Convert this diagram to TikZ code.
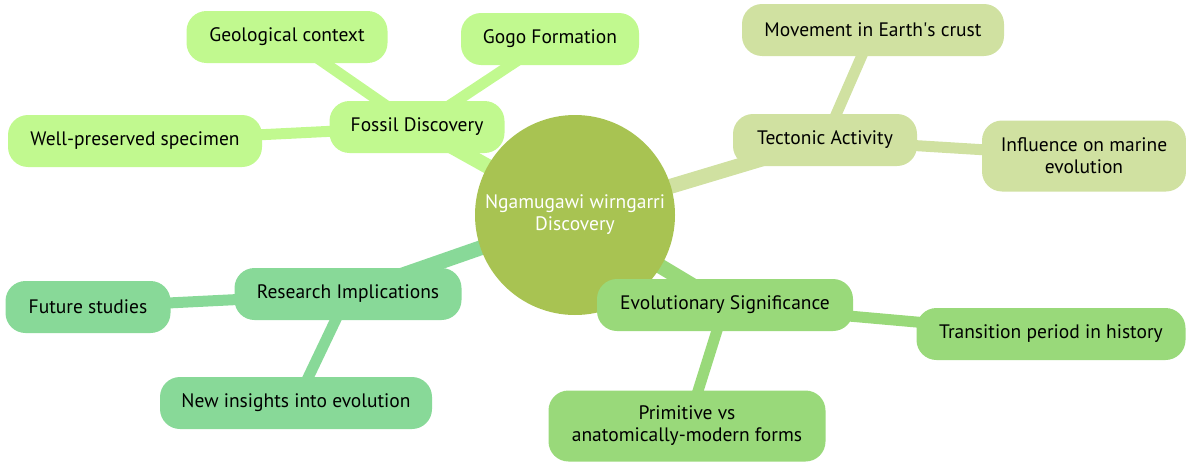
\documentclass[tikz,border=0pt]{standalone}
\usepackage{fontspec}
\setmainfont{PT Sans}
\usetikzlibrary{positioning,backgrounds}
\definecolor{rootgreen}{HTML}{A8C352}
\definecolor{fossilgreen}{HTML}{C1F98F}
\definecolor{tectgreen}{HTML}{D0E1A1}
\definecolor{resgreen}{HTML}{88D998}
\definecolor{evogreen}{HTML}{99D97A}

\begin{document}
\begin{tikzpicture}[x=1pt,y=-1pt,font=\fontsize{19.5}{22}\selectfont,
  topic/.style={rounded corners=20pt,minimum height=52pt,inner sep=0pt,align=center,text=black},
  tall/.style={minimum height=71pt},
  rootedge/.style={line width=15pt},
  leafedge/.style={line width=11pt}]
\useasboundingbox (0,0) rectangle (1186,463);

% centre of the map
\node[circle,fill=rootgreen,minimum size=200pt,inner sep=0pt,align=center,text=white] (root) at (575,215) {Ngamugawi wirngarri\\Discovery};

% main branches
\node[topic,fill=fossilgreen,minimum width=175pt] (fossil) at (417,127) {Fossil Discovery};
\node[topic,fill=tectgreen,minimum width=184pt] (tect) at (825,140) {Tectonic Activity};
\node[topic,fill=resgreen,minimum width=227pt] (res) at (348,294) {Research Implications};
\node[topic,fill=evogreen,minimum width=256pt] (evo) at (725,305) {Evolutionary Significance};

% leaves, one loop per branch
\foreach \nm/\x/\y/\w/\txt in {geo/287/37/201/Geological context, gogo/550/39/178/Gogo Formation, spec/135/141/254/Well-preserved specimen}
  \node[topic,fill=fossilgreen,minimum width=\w pt] (\nm) at (\x,\y) {\txt};
\foreach \nm/\x/\y/\w/\txt in {crust/873/30/262/Movement in Earth\textquotesingle s crust}
  \node[topic,fill=tectgreen,minimum width=\w pt] (\nm) at (\x,\y) {\txt};
\node[topic,tall,fill=tectgreen,minimum width=204pt] (marine) at (1084,156) {Influence on marine\\evolution};
\foreach \nm/\x/\y/\w/\txt in {future/88/307/165/Future studies, insight/296/403/272/New insights into evolution}
  \node[topic,fill=resgreen,minimum width=\w pt] (\nm) at (\x,\y) {\txt};
\node[topic,fill=evogreen,minimum width=269pt] (trans) at (1051,334) {Transition period in history};
\node[topic,tall,fill=evogreen,minimum width=277pt] (prim) at (687,426) {Primitive vs\\anatomically-modern forms};

% connectors go underneath everything
\begin{scope}[on background layer]
  \draw[rootedge,fossilgreen] (root.center) -- (fossil.center);
  \draw[rootedge,tectgreen] (root.center) -- (tect.center);
  \draw[rootedge,resgreen] (root.center) -- (res.center);
  \draw[rootedge,evogreen] (root.center) -- (evo.center);
  \foreach \a/\b in {fossil/geo, fossil/gogo, fossil/spec}
    \draw[leafedge,fossilgreen] (\a.center) -- (\b.center);
  \foreach \a/\b in {tect/crust, tect/marine}
    \draw[leafedge,tectgreen] (\a.center) -- (\b.center);
  \foreach \a/\b in {res/future, res/insight}
    \draw[leafedge,resgreen] (\a.center) -- (\b.center);
  \foreach \a/\b in {evo/trans, evo/prim}
    \draw[leafedge,evogreen] (\a.center) -- (\b.center);
\end{scope}
\end{tikzpicture}
\end{document}
